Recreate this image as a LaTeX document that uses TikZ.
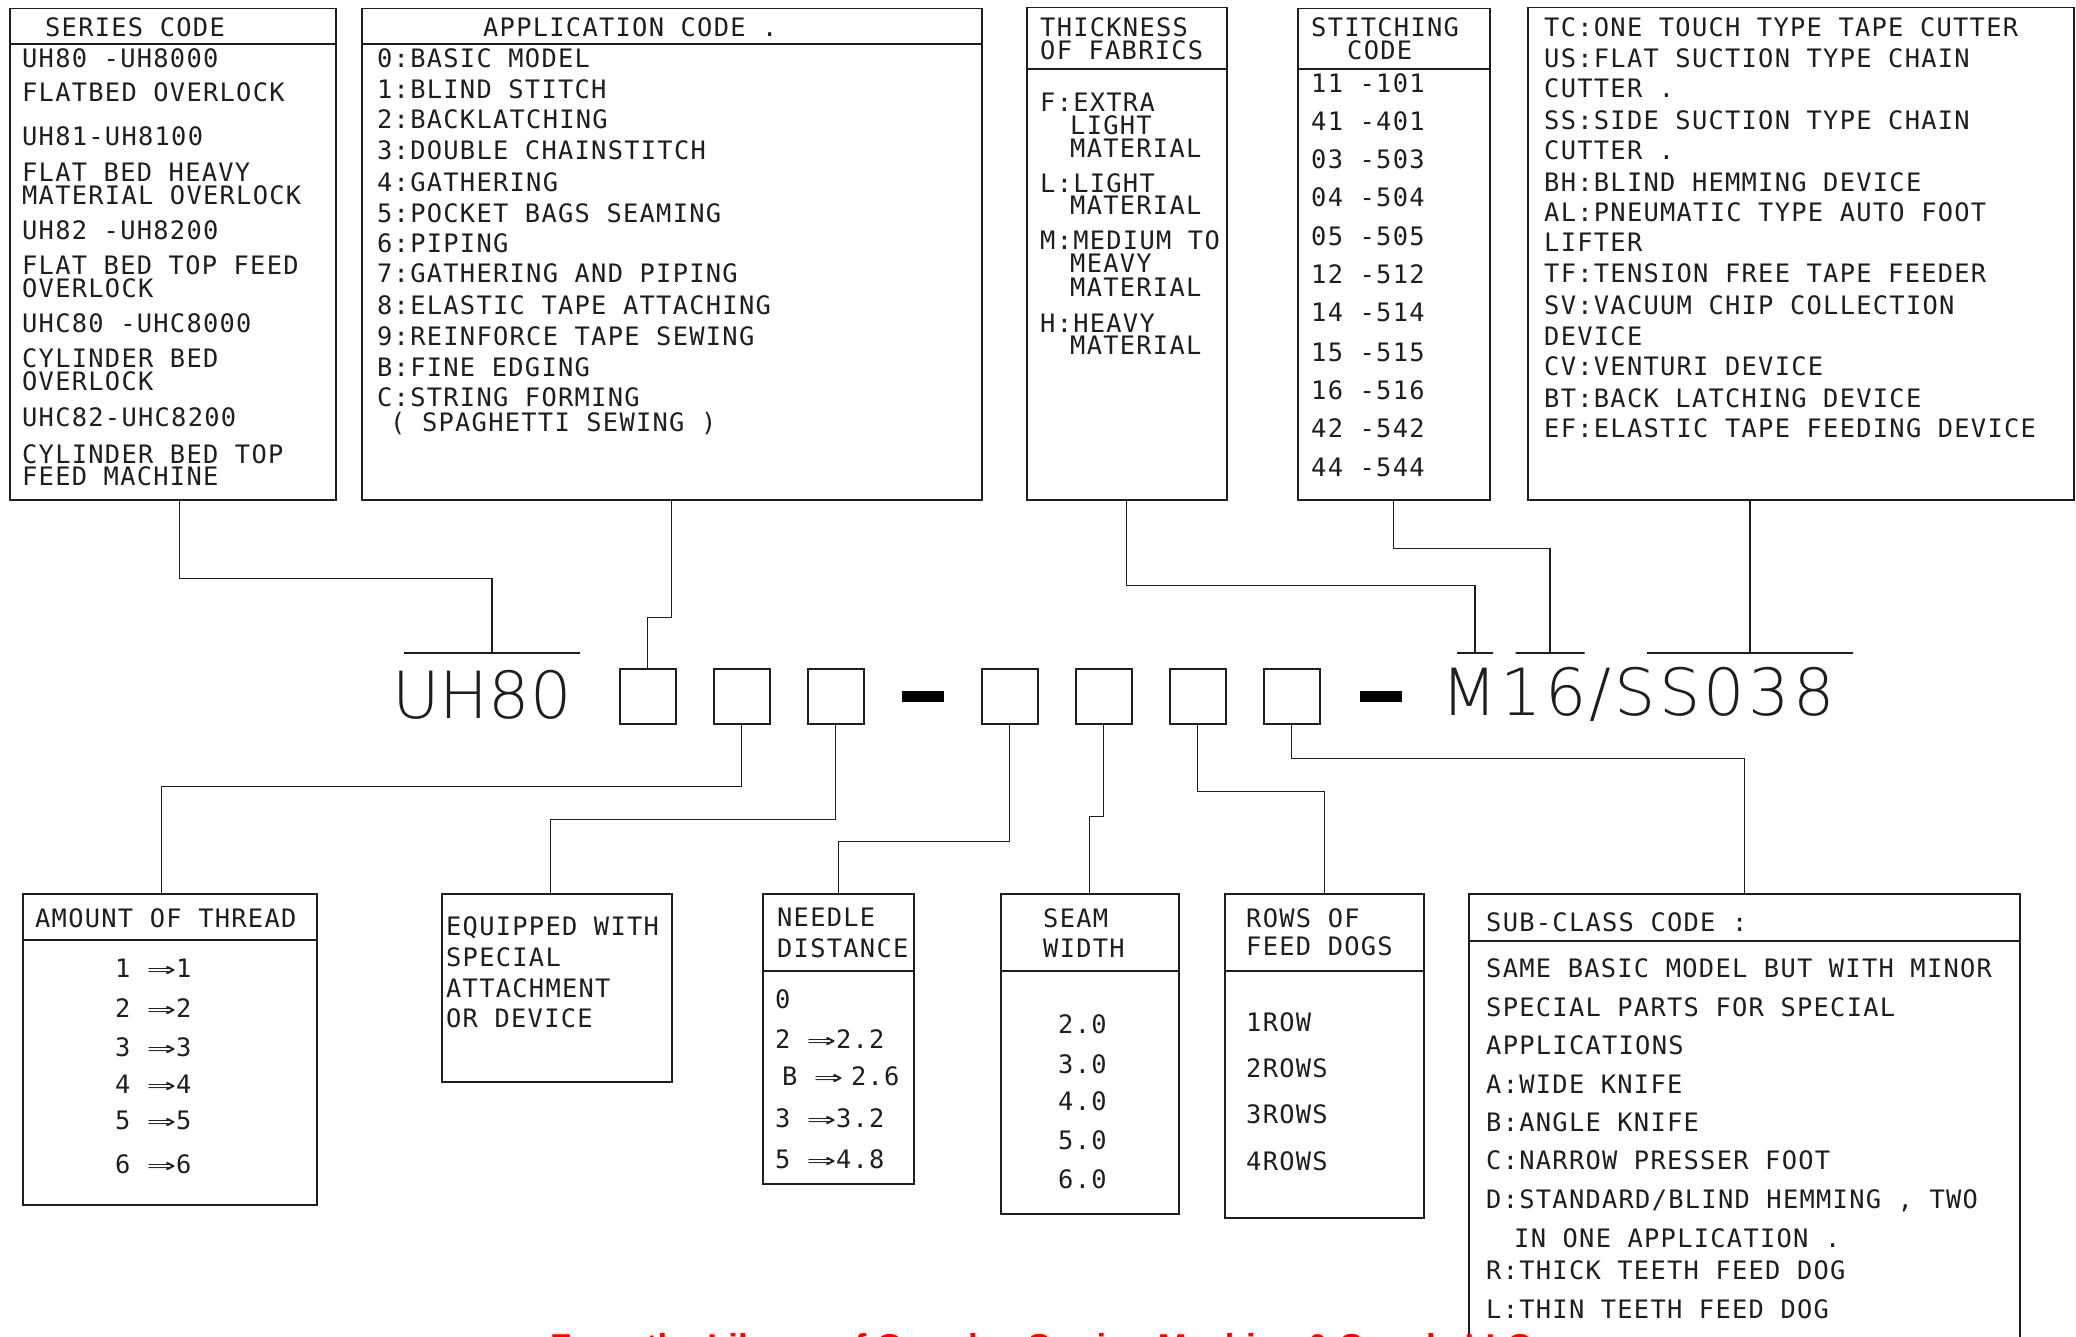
\documentclass[tikz,border=0pt]{standalone}
\usepackage{fontspec}
\usepackage{graphicx}
\newfontfamily\cadfont{DejaVu Sans Mono}[LetterSpace=5]
\newfontfamily\cadthin{DejaVuSans-ExtraLight.ttf}
\newfontfamily\creditfont{Liberation Sans}
\definecolor{cadInk}{RGB}{30,30,30}
\definecolor{cadRed}{RGB}{255,0,0}
\newcommand\dimp{\scalebox{1.9}[1]{⇒}}

\begin{document}
\begin{tikzpicture}[
  x=1pt, y=-1pt,
  box/.style={draw=cadInk, line width=1.5pt, inner sep=0pt, anchor=north west},
  codebox/.style={draw=cadInk, line width=1.5pt, inner sep=0pt, anchor=north west,
              minimum width=56pt, minimum height=55pt},
  dashbox/.style={fill=black, inner sep=0pt, minimum width=42pt, minimum height=11pt},
  bar/.style={draw=cadInk, line width=1.2pt, inner sep=0pt, minimum height=0pt},
  rule/.style={draw=cadInk, line width=1.5pt},
  wire/.style={draw=cadInk, line width=1.2pt},
  txt/.style={anchor=base west, inner sep=0pt, text=cadInk,
              font=\cadfont\fontsize{25.4}{26}\selectfont},
  big/.style={anchor=base west, inner sep=0pt, text=cadInk,
              font=\cadthin\fontsize{65}{66}\selectfont},
  credit/.style={anchor=base west, inner sep=0pt, text=cadRed,
              font=\creditfont\bfseries\fontsize{34.5}{36}\selectfont}
]
\useasboundingbox (0,0) rectangle (2076,1337);
\clip (0,0) rectangle (2076,1337);

\node[box, minimum width=326pt, minimum height=491pt] (series) at (9,8) {};
\node[box, minimum width=620pt, minimum height=491pt] (app) at (361,8) {};
\node[box, minimum width=200pt, minimum height=492pt] (thick) at (1026,7) {};
\node[box, minimum width=192pt, minimum height=491pt] (stitch) at (1297,8) {};
\node[box, minimum width=546pt, minimum height=492pt] (dev) at (1527,7) {};

\draw[rule] (series.west |- 0,44) -- (series.east |- 0,44);
\draw[rule] (app.west |- 0,44) -- (app.east |- 0,44);
\draw[rule] (thick.west |- 0,69) -- (thick.east |- 0,69);
\draw[rule] (stitch.west |- 0,69) -- (stitch.east |- 0,69);

\node[big] (seriescode) at (392,718) {UH80};
\node[codebox] (s1) at (619,668) {};
\node[codebox] (s2) at (713,668) {};
\node[codebox] (s3) at (807,668) {};
\node[dashbox] (dash1) at (923,696) {};
\node[codebox] (s4) at (981,668) {};
\node[codebox] (s5) at (1075,668) {};
\node[codebox] (s6) at (1169,668) {};
\node[codebox] (s7) at (1263,668) {};
\node[dashbox] (dash2) at (1381,696) {};
\node[big] (devcode) at (1441,715) {\addfontfeature{LetterSpace=5}M16/SS038};

\node[bar, minimum width=176pt] (uhbar) at (492,653) {};
\node[bar, minimum width=36pt] (mbarA) at (1475,653) {};
\node[bar, minimum width=69pt] (mbarB) at (1550,653) {};
\node[bar, minimum width=206pt] (mbarC) at (1750,653) {};

\node[box, minimum width=294pt, minimum height=311pt] (amount) at (22,893) {};
\node[box, minimum width=230pt, minimum height=188pt] (equip) at (441,893) {};
\node[box, minimum width=151pt, minimum height=290pt] (needle) at (762,893) {};
\node[box, minimum width=178pt, minimum height=320pt] (seam) at (1000,893) {};
\node[box, minimum width=199pt, minimum height=324pt] (rows) at (1224,893) {};
\node[box, minimum width=551pt, minimum height=470pt] (sub) at (1468,893) {};

\draw[rule] (amount.west |- 0,940) -- (amount.east |- 0,940);
\draw[rule] (needle.west |- 0,971) -- (needle.east |- 0,971);
\draw[rule] (seam.west |- 0,971) -- (seam.east |- 0,971);
\draw[rule] (rows.west |- 0,971) -- (rows.east |- 0,971);
\draw[rule] (sub.west |- 0,941) -- (sub.east |- 0,941);

\draw[wire] ([xshift=7pt]series.south) -- ++(0,78) -| (uhbar);
\draw[wire] (app.south) -- ++(0,117) -| (s1.north);
\draw[wire] (thick.south) -- ++(0,85) -| (mbarA);
\draw[wire] (stitch.south) -- ++(0,48) -| (mbarB);
\draw[wire] (dev.south -| mbarC) -- (mbarC);

\draw[wire] (s2.south) -- ++(0,62) -| ([xshift=-8pt]amount.north);
\draw[wire] (s3.south) -- ++(0,95) -| ([xshift=-6pt]equip.north);
\draw[wire] (s4.south) -- ++(0,117) -| (needle.north);
\draw[wire] (s5.south) -- ++(0,92) -| (seam.north);
\draw[wire] (s6.south) -- ++(0,67) -| (rows.north);
\draw[wire] (s7.south) -- ++(0,34) -| (sub.north);

\node[txt] (serhead) at (45,37) {SERIES CODE};
\foreach \y/\t [count=\i] in {68/{UH80 -UH8000}, 102/{FLATBED OVERLOCK},
    146/{UH81-UH8100}, 182/{FLAT BED HEAVY}, 205/{MATERIAL OVERLOCK},
    240/{UH82 -UH8200}, 275/{FLAT BED TOP FEED}, 298/{OVERLOCK},
    333/{UHC80 -UHC8000}, 367/{CYLINDER BED}, 390/{OVERLOCK},
    426/{UHC82-UHC8200}, 463/{CYLINDER BED TOP}, 485/{FEED MACHINE}}
  \node[txt] (ser\i) at (22,\y) {\t};

\node[txt] (apphead) at (483,37) {APPLICATION CODE .};
\foreach \x/\y/\t [count=\i] in {377/68/{0:BASIC MODEL}, 377/99/{1:BLIND STITCH},
    377/129/{2:BACKLATCHING}, 377/160/{3:DOUBLE CHAINSTITCH},
    377/192/{4:GATHERING}, 377/223/{5:POCKET BAGS SEAMING}, 377/253/{6:PIPING},
    377/283/{7:GATHERING AND PIPING}, 377/315/{8:ELASTIC TAPE ATTACHING},
    377/345/{9:REINFORCE TAPE SEWING}, 377/376/{B:FINE EDGING},
    377/406/{C:STRING FORMING}, 390/431/{( SPAGHETTI SEWING )}}
  \node[txt] (app\i) at (\x,\y) {\t};

\node[txt] (thickhead) at (1040,37) {THICKNESS};
\node[txt] (thickhead2) at (1040,60) {OF FABRICS};
\foreach \x/\y/\t [count=\i] in {1040/112/{F:EXTRA}, 1070/135/{LIGHT},
    1070/158/{MATERIAL}, 1040/193/{L:LIGHT}, 1070/215/{MATERIAL},
    1040/250/{M:MEDIUM TO}, 1070/273/{MEAVY}, 1070/297/{MATERIAL},
    1040/332/{H:HEAVY}, 1070/355/{MATERIAL}}
  \node[txt] (thick\i) at (\x,\y) {\t};

\node[txt] (stitchhead) at (1311,37) {STITCHING};
\node[txt] (stitchhead2) at (1347,60) {CODE};
\foreach \y/\t [count=\i] in {93/{11 -101}, 131/{41 -401}, 169/{03 -503},
    207/{04 -504}, 246/{05 -505}, 284/{12 -512}, 322/{14 -514},
    361/{15 -515}, 399/{16 -516}, 437/{42 -542}, 476/{44 -544}}
  \node[txt] (stitch\i) at (1311,\y) {\t};

\foreach \y/\t [count=\i] in {37/{TC:ONE TOUCH TYPE TAPE CUTTER},
    68/{US:FLAT SUCTION TYPE CHAIN}, 98/{CUTTER .},
    130/{SS:SIDE SUCTION TYPE CHAIN}, 160/{CUTTER .},
    192/{BH:BLIND HEMMING DEVICE}, 222/{AL:PNEUMATIC TYPE AUTO FOOT},
    252/{LIFTER}, 283/{TF:TENSION FREE TAPE FEEDER},
    315/{SV:VACUUM CHIP COLLECTION}, 345/{DEVICE}, 375/{CV:VENTURI DEVICE},
    407/{BT:BACK LATCHING DEVICE}, 437/{EF:ELASTIC TAPE FEEDING DEVICE}}
  \node[txt] (dev\i) at (1544,\y) {\t};

\node[txt] (amounthead) at (35,927) {AMOUNT OF THREAD};
\foreach \y/\n [count=\i] in {977/1, 1017/2, 1056/3, 1093/4, 1129/5, 1173/6}
  \node[txt] (amount\i) at (115,\y) {\n\ \dimp\n};

\foreach \y/\t [count=\i] in {935/{EQUIPPED WITH}, 966/{SPECIAL},
    997/{ATTACHMENT}, 1027/{OR DEVICE}}
  \node[txt] (equip\i) at (446,\y) {\t};

\node[txt] (needlehead) at (777,926) {NEEDLE};
\node[txt] (needlehead2) at (777,957) {DISTANCE};
\node[txt] (needle1) at (775,1008) {0};
\node[txt] (needle2) at (775,1048) {2 \dimp2.2};
\node[txt] (needle3) at (782,1085) {B \dimp\hspace{8pt}2.6};
\node[txt] (needle4) at (775,1127) {3 \dimp3.2};
\node[txt] (needle5) at (775,1168) {5 \dimp4.8};

\node[txt] (seamhead) at (1043,927) {SEAM};
\node[txt] (seamhead2) at (1043,957) {WIDTH};
\foreach \y/\t [count=\i] in {1033/2.0, 1073/3.0, 1110/4.0, 1149/5.0, 1188/6.0}
  \node[txt] (seam\i) at (1058,\y) {\t};

\node[txt] (rowshead) at (1246,927) {ROWS OF};
\node[txt] (rowshead2) at (1246,955) {FEED DOGS};
\foreach \y/\t [count=\i] in {1031/1ROW, 1077/2ROWS, 1123/3ROWS, 1170/4ROWS}
  \node[txt] (rows\i) at (1246,\y) {\t};

\node[txt] (subhead) at (1486,931) {SUB-CLASS CODE :};
\foreach \x/\y/\t [count=\i] in {1486/977/{SAME BASIC MODEL BUT WITH MINOR},
    1486/1016/{SPECIAL PARTS FOR SPECIAL}, 1486/1054/{APPLICATIONS},
    1486/1093/{A:WIDE KNIFE}, 1486/1131/{B:ANGLE KNIFE},
    1486/1169/{C:NARROW PRESSER FOOT}, 1486/1208/{D:STANDARD/BLIND HEMMING , TWO},
    1514/1247/{IN ONE APPLICATION .}, 1486/1279/{R:THICK TEETH FEED DOG},
    1486/1318/{L:THIN TEETH FEED DOG}}
  \node[txt] (sub\i) at (\x,\y) {\t};

\node[credit] (creditline) at (550,1358) {From the Library of Garudan Sewing Machine \& Supply LLC};
\end{tikzpicture}
\end{document}
